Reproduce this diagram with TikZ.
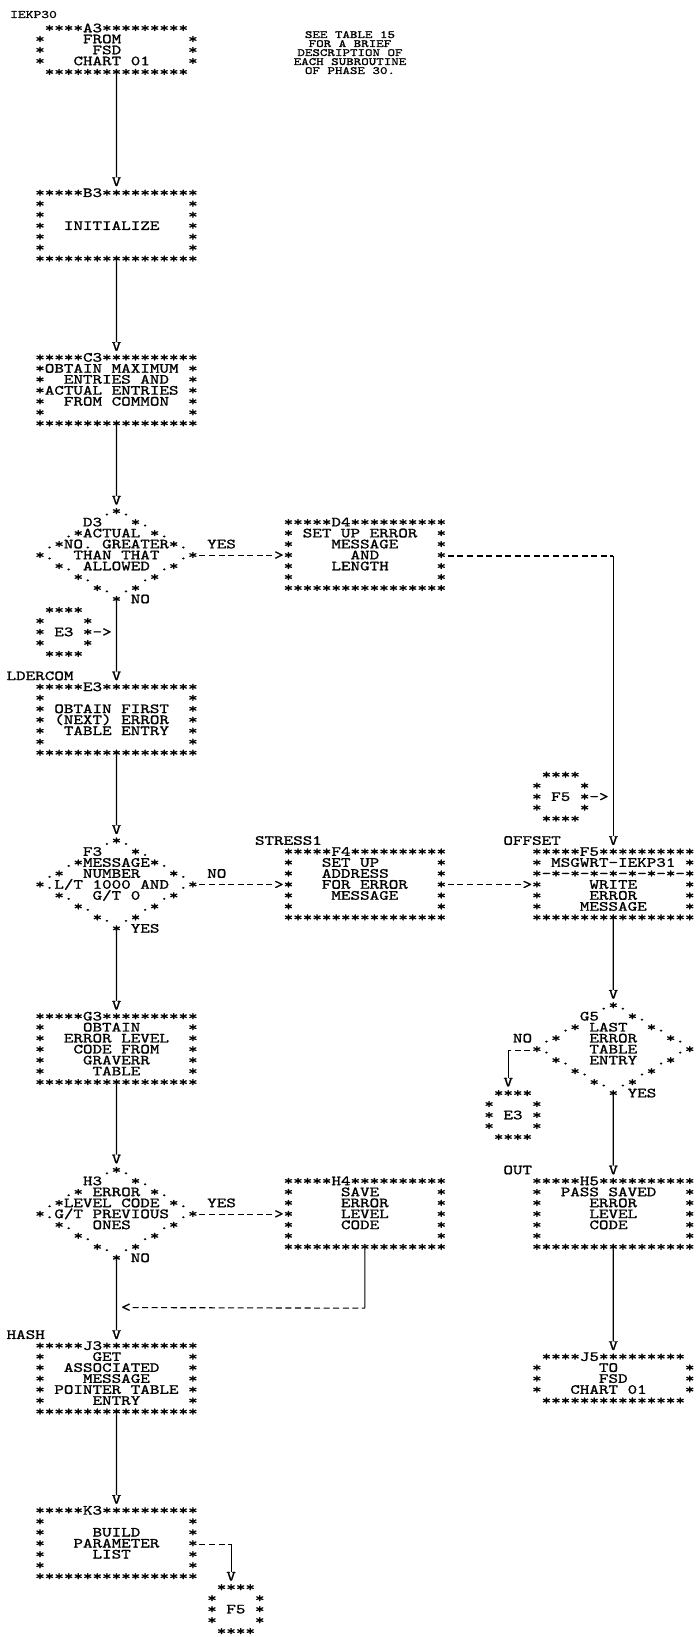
\documentclass[tikz,border=0pt]{standalone}
\usepackage{fontspec}
\newfontfamily\pmonofam{lmmono10-regular.otf}[FakeStretch=1.3,FakeBold=1.2]
\newcommand\pmono{\pmonofam\fontsize{14pt}{10.98pt}\selectfont}
\newcommand\smono{\pmonofam\fontsize{11.4pt}{8pt}\selectfont}
\newcommand\nmono{\pmonofam\fontsize{11pt}{9pt}\selectfont}
\newlength\cw \setlength\cw{9.555pt}
\newcommand\rw[1]{\hbox{#1}}
\newcommand\art[1]{\vtop{\pmono\baselineskip=10.98pt\lineskiplimit=-100pt\lineskip=0pt\def~{\kern\cw}#1}}
\newcommand\erow{\rw{*~~~~~~~~~~~~~~~*}}
\newcommand\brow{\rw{*****************}}
\newcommand\notebox{\vtop{\nmono\baselineskip=9pt\lineskiplimit=-100pt\lineskip=0pt\halign{\hfil##\hfil\cr SEE TABLE 15\cr FOR A BRIEF\cr DESCRIPTION OF\cr EACH SUBROUTINE\cr OF PHASE 30.\cr}}}
\newcommand\gX[1]{(11.35+9.555*(#1))}
\newcommand\gB[1]{(32.3+10.98*(#1))}
\newcommand\gR[1]{(29+10.98*(#1))}
\newcommand\artat[4]{\node[art] (#1) at ({\gX{#2}-4.78},{\gB{#3}}) {\art{#4}};}
\newcommand\lab[4]{\node[lbl] (#1) at ({\gX{#2}-4.78},{\gB{#3}}) {#4};}
\newcommand\gly[4]{\node[glyph] (#1) at ({\gX{#2}},{\gB{#3}}) {#4};}
\newcommand\crn[3]{\coordinate (#1) at ({\gX{#2}},{\gR{#3}});}
\tikzset{
  art/.style={anchor=base west, inner sep=0pt, outer sep=0pt},
  lbl/.style={anchor=base west, inner sep=0pt, outer sep=0pt, font=\pmono},
  glyph/.style={anchor=base, inner sep=0pt, outer sep=0pt, font=\pmono},
  flow/.style={line width=1.2pt, black},
  dashflow/.style={line width=1.1pt, black, dash pattern=on 6pt off 3.555pt, dash phase=7.78pt}
}
\begin{document}
\begin{tikzpicture}[x=1pt,y=-1pt]
\fill[white] (0,0) rectangle (697,1637);
\useasboundingbox (0,0) rectangle (697,1637);

\node[anchor=base west, inner sep=0pt, font=\smono] (pageid) at (10,18) {IEKP30};
\node[anchor=base, inner sep=0pt] (note) at (350,38) {\notebox};

% column 3
\artat{A3}{3}{0}{\rw{~****A3*********}\rw{*~~~~FROM~~~~~~~*}\rw{*~~~~~FSD~~~~~~~*}\rw{*~~~CHART~01~~~~*}\rw{~***************}}
\artat{B3}{3}{15}{\rw{*****B3**********}\erow\erow\rw{*~~INITIALIZE~~~*}\erow\erow\brow}
\artat{C3}{3}{30}{\rw{*****C3**********}\rw{*OBTAIN~MAXIMUM~*}\rw{*~~ENTRIES~AND~~*}\rw{*ACTUAL~ENTRIES~*}\rw{*~~FROM~COMMON~~*}\erow\brow}
\artat{D3}{3}{44}{\rw{~~~~~~~.*.}\rw{~~~~~D3~~~*.}\rw{~~~.*ACTUAL~*.}\rw{~.*NO.~GREATER*.}\rw{*.~~THAN~THAT~~.*}\rw{~~*.~ALLOWED~.*}\rw{~~~~*.~~~~~.*}\rw{~~~~~~*.~.*}\rw{~~~~~~~~*}}
\artat{cE3a}{3}{53}{\rw{~****}\rw{*~~~~*}\rw{*~E3~*->}\rw{*~~~~*}\rw{~****}}
\lab{lLDERCOM}{0}{59}{LDERCOM}
\artat{E3}{3}{60}{\rw{*****E3**********}\erow\rw{*~OBTAIN~FIRST~~*}\rw{*~(NEXT)~ERROR~~*}\rw{*~~TABLE~ENTRY~~*}\erow\brow}
\artat{F3}{3}{74}{\rw{~~~~~~~.*.}\rw{~~~~~F3~~~*.}\rw{~~~.*MESSAGE*.}\rw{~.*~~NUMBER~~~*.}\rw{*.L/T~1000~AND~.*}\rw{~~*.~~G/T~0~~.*}\rw{~~~~*.~~~~~.*}\rw{~~~~~~*.~.*}\rw{~~~~~~~~*}}
\artat{G3}{3}{90}{\rw{*****G3**********}\rw{*~~~~OBTAIN~~~~~*}\rw{*~~ERROR~LEVEL~~*}\rw{*~~~CODE~FROM~~~*}\rw{*~~~~GRAVERR~~~~*}\rw{*~~~~~TABLE~~~~~*}\brow}
\artat{H3}{3}{104}{\rw{~~~~~~~.*.}\rw{~~~~~H3~~~*.}\rw{~~~.*~ERROR~*.}\rw{~.*LEVEL~CODE~*.}\rw{*.G/T~PREVIOUS~.*}\rw{~~*.~~ONES~~~.*}\rw{~~~~*.~~~~~.*}\rw{~~~~~~*.~.*}\rw{~~~~~~~~*}}
\lab{lHASH}{0}{119}{HASH}
\artat{J3}{3}{120}{\rw{*****J3**********}\rw{*~~~~~GET~~~~~~~*}\rw{*~~ASSOCIATED~~~*}\rw{*~~~~MESSAGE~~~~*}\rw{*~POINTER~TABLE~*}\rw{*~~~~~ENTRY~~~~~*}\brow}
\artat{K3}{3}{135}{\rw{*****K3**********}\erow\rw{*~~~~~BUILD~~~~~*}\rw{*~~~PARAMETER~~~*}\rw{*~~~~~LIST~~~~~~*}\erow\brow}
\artat{cF5b}{21}{142}{\rw{~****}\rw{*~~~~*}\rw{*~F5~*}\rw{*~~~~*}\rw{~****}}

% column 4
\artat{D4}{29}{45}{\rw{*****D4**********}\rw{*~SET~UP~ERROR~~*}\rw{*~~~~MESSAGE~~~~*}\rw{*~~~~~~AND~~~~~~*}\rw{*~~~~LENGTH~~~~~*}\erow\brow}
\lab{lSTRESS}{26}{74}{STRESS1}
\artat{F4}{29}{75}{\rw{*****F4**********}\rw{*~~~SET~UP~~~~~~*}\rw{*~~~ADDRESS~~~~~*}\rw{*~~~FOR~ERROR~~~*}\rw{*~~~~MESSAGE~~~~*}\erow\brow}
\artat{H4}{29}{105}{\rw{*****H4**********}\rw{*~~~~~SAVE~~~~~~*}\rw{*~~~~~ERROR~~~~~*}\rw{*~~~~~LEVEL~~~~~*}\rw{*~~~~~CODE~~~~~~*}\erow\brow}

% column 5
\artat{cF5a}{55}{68}{\rw{~****}\rw{*~~~~*}\rw{*~F5~*->}\rw{*~~~~*}\rw{~****}}
\lab{lOFFSET}{52}{74}{OFFSET}
\artat{F5}{55}{75}{\rw{*****F5**********}\rw{*~MSGWRT-IEKP31~*}\rw{*-*-*-*-*-*-*-*-*}\rw{*~~~~~WRITE~~~~~*}\rw{*~~~~~ERROR~~~~~*}\rw{*~~~~MESSAGE~~~~*}\brow}
\artat{G5}{55}{89}{\rw{~~~~~~~.*.}\rw{~~~~~G5~~~*.}\rw{~~~.*~LAST~~*.}\rw{~.*~~~ERROR~~~*.}\rw{*.~~~~TABLE~~~~.*}\rw{~~*.~~ENTRY~~.*}\rw{~~~~*.~~~~~.*}\rw{~~~~~~*.~.*}\rw{~~~~~~~~*}}
\artat{cE3b}{50}{97}{\rw{~****}\rw{*~~~~*}\rw{*~E3~*}\rw{*~~~~*}\rw{~****}}
\lab{lOUT}{52}{104}{OUT}
\artat{H5}{55}{105}{\rw{*****H5**********}\rw{*~~PASS~SAVED~~~*}\rw{*~~~~~ERROR~~~~~*}\rw{*~~~~~LEVEL~~~~~*}\rw{*~~~~~CODE~~~~~~*}\erow\brow}
\artat{J5}{55}{121}{\rw{~****J5*********}\rw{*~~~~~~TO~~~~~~~*}\rw{*~~~~~~FSD~~~~~~*}\rw{*~~~CHART~01~~~~*}\rw{~***************}}

% exit labels
\lab{yD3}{21}{47}{YES}
\lab{nD3}{13}{52}{NO}
\lab{nF3}{21}{77}{NO}
\lab{yF3}{13}{82}{YES}
\lab{nG5}{53}{92}{NO}
\lab{yG5}{65}{97}{YES}
\lab{yH3}{21}{107}{YES}
\lab{nH3}{13}{112}{NO}

% arrowheads
\gly{vB3}{11}{14}{V}
\gly{vC3}{11}{29}{V}
\gly{vD3}{11}{43}{V}
\gly{vE3}{11}{59}{V}
\gly{vF3}{11}{73}{V}
\gly{vG3}{11}{89}{V}
\gly{vH3}{11}{103}{V}
\gly{vJ3}{11}{119}{V}
\gly{vK3}{11}{134}{V}
\gly{vF5}{63}{74}{V}
\gly{vG5}{63}{88}{V}
\gly{vH5}{63}{104}{V}
\gly{vJ5}{63}{120}{V}
\gly{vE3b}{52}{96}{V}
\gly{vF5b}{23}{141}{V}
\gly{gtD4}{28}{48}{>}
\gly{gtF4}{28}{78}{>}
\gly{gtF5}{54}{78}{>}
\gly{gtH4}{28}{108}{>}
\gly{ltJ3}{12}{116.5}{<}

% corners
\crn{cD4}{63}{48}
\crn{cG5}{52}{93}
\crn{cH4}{37}{116.5}
\crn{cK3}{23}{138}

% connectors
\draw[flow] ([yshift=1.5pt]A3.south) -- (vB3.north);
\draw[flow] ([yshift=1.5pt]B3.south) -- (vC3.north);
\draw[flow] ([yshift=1.5pt]C3.south) -- (vD3.north);
\draw[flow] ([yshift=1.5pt]D3.south) -- (vE3.north);
\draw[flow] ([yshift=1.5pt]E3.south) -- (vF3.north);
\draw[flow] ([yshift=1.5pt]F3.south) -- (vG3.north);
\draw[flow] ([yshift=1.5pt]G3.south) -- (vH3.north);
\draw[flow] ([yshift=1.5pt]H3.south) -- (vJ3.north);
\draw[flow] ([yshift=1.5pt]J3.south) -- (vK3.north);
\draw[flow] ([yshift=1.5pt]F5.south) -- (vG5.north);
\draw[flow] ([yshift=1.5pt]G5.south) -- (vH5.north);
\draw[flow] ([yshift=1.5pt]H5.south) -- (vJ5.north);
\draw[dashflow] (D3.east |- gtD4.west) -- (gtD4.west);
\draw[dashflow] (D4.east |- cD4) -- (cD4);
\draw[flow] (cD4) -- (vF5.north);
\draw[dashflow] (F3.east |- gtF4.west) -- (gtF4.west);
\draw[dashflow] (F4.east |- gtF5.west) -- (gtF5.west);
\draw[dashflow] (G5.west |- cG5) -- (cG5);
\draw[flow] (cG5) -- (vE3b.north);
\draw[dashflow] (H3.east |- gtH4.west) -- (gtH4.west);
\draw[flow] ([yshift=1.5pt]H4.south) -- (cH4);
\draw[dashflow] (ltJ3.east) -- (cH4);
\draw[dashflow] (K3.east |- cK3) -- (cK3);
\draw[flow] (cK3) -- (vF5b.north);
\end{tikzpicture}
\end{document}
